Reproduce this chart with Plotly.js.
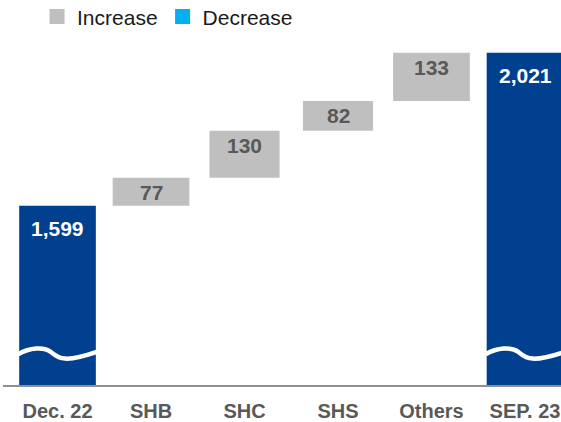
<!DOCTYPE html>
<html>
<head>
<meta charset="utf-8">
<script src="https://cdn.plot.ly/plotly-3.0.1.min.js"></script>
<style>html,body{margin:0;padding:0;background:#fff;}#chart{width:561px;height:422px;}</style>
</head>
<body>
<div id="chart"></div>
<script>
// ---- data ----
const categories = ['Dec. 22', 'SHB', 'SHC', 'SHS', 'Others', 'SEP. 23'];
const startLabel = 'Dec. 22';
const startValue = 1599;
const increaseCategories = ['SHB', 'SHC', 'SHS', 'Others'];
const increaseValues = [77, 130, 82, 133];
const endLabel = 'SEP. 23';
const endValue = 2021;
const legendNames = ['Increase', 'Decrease'];

// ---- derived ----
const idx = c => categories.indexOf(c);
const incBases = [];
let run = startValue;
increaseValues.forEach(v => { incBases.push(run); run += v; });
const fmt = v => v.toLocaleString('en-US');

const BLUE = '#00408F', GRAY = '#BFBFBF', CYAN = '#00B0F0', TXT = '#595959';
const FONT = 'Liberation Sans, Arial, sans-serif';

const traces = [
  {
    type: 'bar', x: [idx(startLabel), idx(endLabel)], y: [startValue, endValue],
    width: 0.82, marker: {color: BLUE}, showlegend: false, hoverinfo: 'skip'
  },
  {
    type: 'bar', x: increaseCategories.map(idx), y: increaseValues, base: incBases,
    width: [0.82, 0.75, 0.75, 0.82], marker: {color: GRAY}, showlegend: false, hoverinfo: 'skip'
  },
  {
    type: 'scatter', mode: 'markers', x: [null], y: [null], name: legendNames[0],
    marker: {symbol: 'square', size: 15, color: GRAY}
  },
  {
    type: 'scatter', mode: 'markers', x: [null], y: [null], name: legendNames[1],
    marker: {symbol: 'square', size: 15, color: CYAN}
  }
];

const annotations = [];
[[startLabel, startValue], [endLabel, endValue]].forEach(([c, v]) => {
  annotations.push({x: idx(c), y: v, xref: 'x', yref: 'y', text: '<b>' + fmt(v) + '</b>',
    showarrow: false, yanchor: 'top', yshift: -9, font: {family: FONT, size: 21, color: '#ffffff'}});
});
increaseCategories.forEach((c, i) => {
  annotations.push({x: idx(c), y: incBases[i] + increaseValues[i], xref: 'x', yref: 'y',
    text: '<b>' + fmt(increaseValues[i]) + '</b>', showarrow: false, yanchor: 'top', yshift: -1,
    font: {family: FONT, size: 21, color: TXT}});
});

// axis-break waves on the total bars
const shapes = [startLabel, endLabel].map(c => {
  const i = idx(c);
  return {
    type: 'path', xref: 'x', yref: 'y',
    path: `M ${i-0.42},1190 C ${i-0.3},1207 ${i-0.15},1212 ${i-0.07},1196 S ${i+0.06},1164 ${i+0.42},1196`,
    line: {color: '#ffffff', width: 4.5}
  };
});

const layout = {
  width: 561, height: 422,
  margin: {l: 3, r: 0, t: 40, b: 37},
  paper_bgcolor: '#ffffff', plot_bgcolor: '#ffffff',
  font: {family: FONT, color: TXT},
  barmode: 'overlay',
  showlegend: true,
  legend: {orientation: 'h', xref: 'container', yref: 'container', x: 0.066, y: 0.96,
    xanchor: 'left', yanchor: 'middle', font: {family: FONT, size: 21, color: '#1a1a1a'},
    itemsizing: 'trace', bgcolor: 'rgba(0,0,0,0)'},
  xaxis: {
    type: 'linear', range: [-0.583, 5.385], tickmode: 'array',
    tickvals: categories.map((c, i) => i), ticktext: categories.map(c => '<b>' + c + '</b>'),
    showgrid: false, zeroline: false, showline: true, linecolor: '#909090', linewidth: 2,
    ticks: '', ticklabelstandoff: 7, tickfont: {family: FONT, size: 20, color: TXT}, fixedrange: true
  },
  yaxis: {range: [1105, 2056], visible: false, showgrid: false, zeroline: false, fixedrange: true},
  annotations: annotations,
  shapes: shapes
};

Plotly.newPlot('chart', traces, layout, {displayModeBar: false, staticPlot: true});
</script>
</body>
</html>
